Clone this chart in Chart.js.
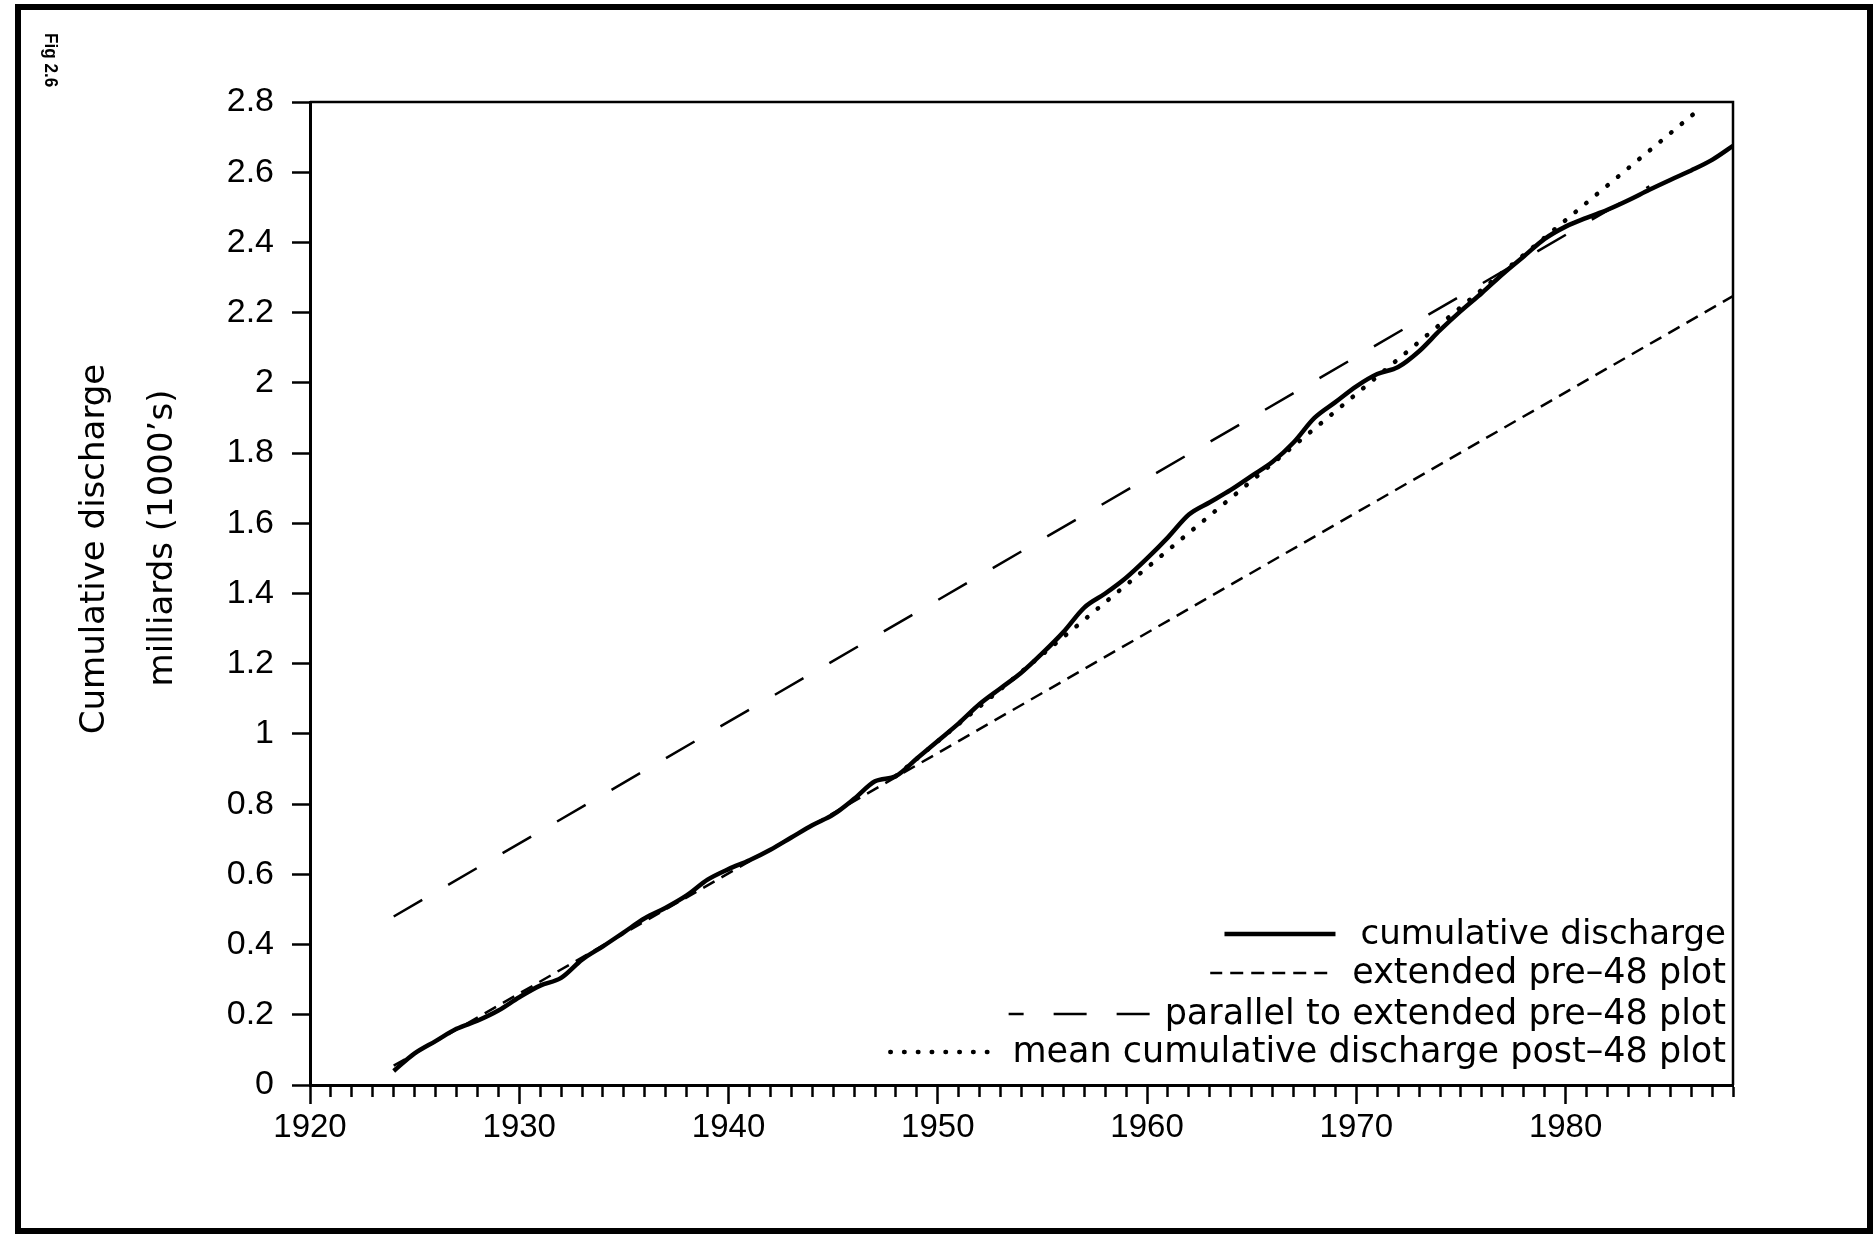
<!DOCTYPE html>
<html>
<head>
<meta charset="utf-8">
<script src="https://cdn.jsdelivr.net/npm/chart.js@4.4.1/dist/chart.umd.min.js"></script>
<style>
  html, body { margin: 0; padding: 0; background: #fff; }
  canvas { display: block; }
</style>
</head>
<body>
<canvas id="chart" width="1875" height="1235"></canvas>
<script>
// Cumulative discharge (milliards, 1000's)
const years = [1924, 1925, 1926, 1927, 1928, 1929, 1930, 1931, 1932, 1933,
               1934, 1935, 1936, 1937, 1938, 1939, 1940, 1941, 1942, 1943,
               1944, 1945, 1946, 1947, 1948, 1949, 1950, 1951, 1952, 1953,
               1954, 1955, 1956, 1957, 1958, 1959, 1960, 1961, 1962, 1963,
               1964, 1965, 1966, 1967, 1968, 1969, 1970, 1971, 1972, 1973,
               1974, 1975, 1976, 1977, 1978, 1979, 1980, 1981, 1982, 1983,
               1984, 1985, 1986, 1987, 1988];
const discharge = [0.04, 0.09, 0.125, 0.16, 0.183, 0.212, 0.25, 0.283, 0.305, 0.357,
                   0.395, 0.435, 0.475, 0.505, 0.54, 0.585, 0.615, 0.64, 0.67, 0.705,
                   0.74, 0.77, 0.815, 0.865, 0.88, 0.93, 0.98, 1.03, 1.085, 1.13,
                   1.175, 1.23, 1.29, 1.36, 1.40, 1.445, 1.50, 1.56, 1.625, 1.66,
                   1.695, 1.735, 1.775, 1.83, 1.90, 1.945, 1.99, 2.025, 2.045, 2.09,
                   2.15, 2.205, 2.256, 2.31, 2.36, 2.41, 2.445, 2.47, 2.493, 2.52,
                   2.55, 2.578, 2.605, 2.635, 2.675];

// straight reference lines, start and end
const prePlotYears = [1924, 1988];
const prePlotValues = [0.055, 2.247];
const parallelYears = [1924, 1984];
const parallelValues = [0.48, 2.56];
const meanPostYears = [1948, 1986.4];
const meanPostValues = [0.88, 2.78];

const xTickLabels = [1920, 1930, 1940, 1950, 1960, 1970, 1980];
const seriesLabels = [
  'cumulative discharge',
  'extended pre\u201348 plot',
  'parallel to extended pre\u201348 plot',
  'mean cumulative discharge post\u201348 plot'
];

function toPoints(xs, ys) {
  return xs.map((x, i) => ({ x: x, y: ys[i] }));
}

// legend rows: baseline y, gap before text, sample length
const legendRows = [
  { y: 944, gap: 25, len: 111 },
  { y: 983, gap: 25, len: 117 },
  { y: 1024, gap: 15, len: 141 },
  { y: 1062, gap: 25, len: 106 }
];

const decorPlugin = {
  id: 'decor',
  afterDraw(chart) {
    const ctx = chart.ctx;
    const area = chart.chartArea;
    ctx.save();

    // page frame
    ctx.strokeStyle = '#000';
    ctx.lineWidth = 6;
    ctx.strokeRect(18, 7, 1852, 1224);

    // top and right sides of the plot box
    ctx.lineWidth = 2.5;
    ctx.beginPath();
    ctx.moveTo(area.left, area.top);
    ctx.lineTo(area.right, area.top);
    ctx.lineTo(area.right, area.bottom);
    ctx.stroke();

    // figure number, condensed and turned
    ctx.save();
    ctx.translate(45, 33);
    ctx.rotate(Math.PI / 2);
    ctx.scale(0.9, 1);
    ctx.fillStyle = '#000';
    ctx.font = 'bold 19px "Liberation Sans"';
    ctx.textAlign = 'left';
    ctx.textBaseline = 'alphabetic';
    ctx.fillText('Fig 2.6', 0, 0);
    ctx.restore();

    // y axis title, two lines
    ctx.fillStyle = '#000';
    ctx.font = '34px "DejaVu Sans"';
    ctx.textAlign = 'center';
    ctx.textBaseline = 'alphabetic';
    ctx.save();
    ctx.translate(104, 549);
    ctx.rotate(-Math.PI / 2);
    ctx.fillText('Cumulative discharge', 0, 0);
    ctx.restore();
    ctx.save();
    ctx.translate(172, 538);
    ctx.rotate(-Math.PI / 2);
    ctx.fillText('milliards (1000\u2019s)', 0, 0);
    ctx.restore();

    // legend
    ctx.textAlign = 'right';
    const textRight = 1726;
    chart.data.datasets.forEach((ds, i) => {
      const row = legendRows[i];
      ctx.font = (i === 0 ? '34px' : '35px') + ' "DejaVu Sans"';
      ctx.fillStyle = '#000';
      ctx.fillText(ds.label, textRight, row.y);
      const w = ctx.measureText(ds.label).width;
      const x1 = textRight - w - row.gap;
      const x0 = x1 - row.len;
      const ly = row.y - 10;
      ctx.save();
      ctx.strokeStyle = '#000';
      ctx.lineWidth = ds.borderWidth;
      ctx.lineCap = ds.borderCapStyle || 'butt';
      ctx.setLineDash(ds.borderDash || []);
      ctx.beginPath();
      ctx.moveTo(x1, ly);
      ctx.lineTo(x0, ly);
      ctx.stroke();
      ctx.restore();
    });

    ctx.restore();
  }
};

const ctx = document.getElementById('chart').getContext('2d');

new Chart(ctx, {
  type: 'line',
  data: {
    datasets: [
      {
        label: seriesLabels[0],
        data: toPoints(years, discharge),
        borderColor: '#000',
        borderWidth: 4.5,
        pointRadius: 0,
        cubicInterpolationMode: 'monotone',
        fill: false
      },
      {
        label: seriesLabels[1],
        data: toPoints(prePlotYears, prePlotValues),
        borderColor: '#000',
        borderWidth: 2.5,
        borderDash: [13, 8],
        pointRadius: 0,
        fill: false
      },
      {
        label: seriesLabels[2],
        data: toPoints(parallelYears, parallelValues),
        borderColor: '#000',
        borderWidth: 2.5,
        borderDash: [33, 30],
        pointRadius: 0,
        fill: false
      },
      {
        label: seriesLabels[3],
        data: toPoints(meanPostYears, meanPostValues),
        borderColor: '#000',
        borderWidth: 4.5,
        borderDash: [0.5, 13.3],
        borderCapStyle: 'round',
        pointRadius: 0,
        fill: false
      }
    ]
  },
  options: {
    responsive: false,
    devicePixelRatio: 1,
    animation: false,
    layout: {
      padding: { top: 102, right: 142, bottom: 0, left: 0 }
    },
    plugins: {
      legend: { display: false },
      tooltip: { enabled: false }
    },
    scales: {
      x: {
        type: 'linear',
        min: 1920,
        max: 1988,
        afterFit: function(scale) { scale.height = 150; },
        border: { display: true, color: '#000', width: 3 },
        grid: {
          drawOnChartArea: false,
          color: '#000',
          tickColor: '#000',
          tickWidth: 2.5,
          tickLength: 19,
          tickBorderDash: function(c) {
            return xTickLabels.includes(c.tick.value) ? [] : [10, 100];
          }
        },
        ticks: {
          stepSize: 1,
          autoSkip: false,
          maxRotation: 0,
          color: '#000',
          padding: 4,
          font: { family: '"Liberation Sans"', size: 33 },
          callback: function(value) {
            return xTickLabels.includes(value) ? String(value) : '';
          }
        }
      },
      y: {
        min: 0,
        max: 2.8,
        afterFit: function(scale) { scale.width = 310; },
        border: { display: true, color: '#000', width: 3 },
        grid: {
          drawOnChartArea: false,
          color: '#000',
          tickColor: '#000',
          tickWidth: 2.5,
          tickLength: 18
        },
        ticks: {
          stepSize: 0.2,
          color: '#000',
          padding: 18,
          font: { family: '"Liberation Sans"', size: 34 },
          callback: function(value) {
            return String(+value.toFixed(1));
          }
        }
      }
    }
  },
  plugins: [decorPlugin]
});
</script>
</body>
</html>
